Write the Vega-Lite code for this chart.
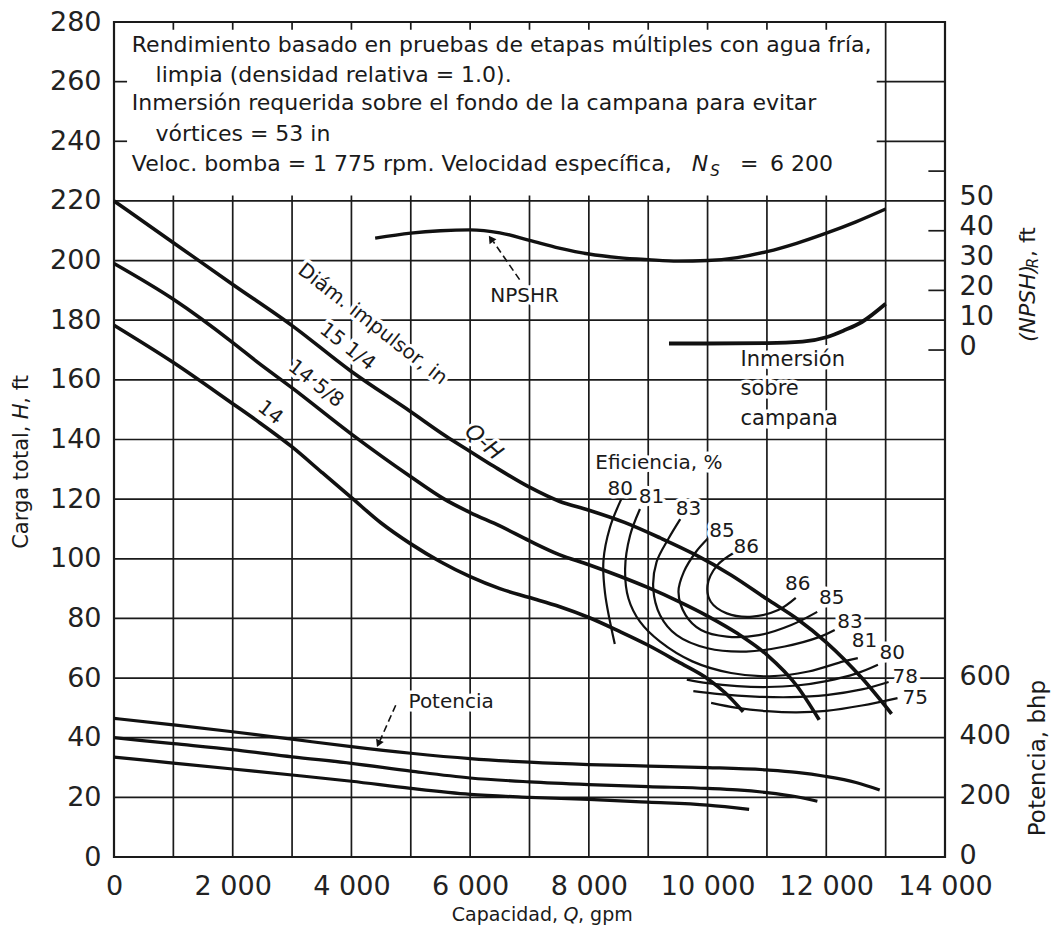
{
"$schema":"https://vega.github.io/schema/vega-lite/v6.json",
"width":831,"height":835,
"autosize":{"type":"none"},
"padding":{"left":114,"top":22,"right":107,"bottom":83},
"background":"white",
"config":{"view":{"stroke":"#1a1a1a","strokeWidth":2.2},"font":"DejaVu Sans","text":{"font":"DejaVu Sans","color":"#1a1a1a"}},
"datasets":{
"hrules":[
{"h":20,"q":0,"q2":14000},{"h":40,"q":0,"q2":14000},{"h":60,"q":0,"q2":14000},{"h":80,"q":0,"q2":14000},{"h":100,"q":0,"q2":14000},{"h":120,"q":0,"q2":14000},{"h":140,"q":0,"q2":14000},{"h":160,"q":0,"q2":14000},{"h":180,"q":0,"q2":14000},{"h":200,"q":0,"q2":14000},{"h":220,"q":0,"q2":14000},
{"h":240,"q":0,"q2":220},{"h":260,"q":0,"q2":220},{"h":240,"q":12850,"q2":14000},{"h":260,"q":12850,"q2":14000},
{"h":170,"q":13720,"q2":14000},{"h":190,"q":13720,"q2":14000},{"h":210,"q":13720,"q2":14000},{"h":230,"q":13720,"q2":14000}
],
"vrules":[
{"q":1000,"h":0,"h2":221.8},{"q":2000,"h":0,"h2":221.8},{"q":3000,"h":0,"h2":221.8},{"q":4000,"h":0,"h2":221.8},{"q":5000,"h":0,"h2":221.8},{"q":6000,"h":0,"h2":221.8},{"q":7000,"h":0,"h2":221.8},{"q":8000,"h":0,"h2":221.8},{"q":9000,"h":0,"h2":221.8},{"q":10000,"h":0,"h2":221.8},{"q":11000,"h":0,"h2":221.8},{"q":12000,"h":0,"h2":221.8},{"q":13000,"h":0,"h2":280},
{"q":1000,"h":277.4,"h2":280},{"q":2000,"h":277.4,"h2":280},{"q":3000,"h":277.4,"h2":280},{"q":4000,"h":277.4,"h2":280},{"q":5000,"h":277.4,"h2":280},{"q":6000,"h":277.4,"h2":280},{"q":7000,"h":277.4,"h2":280},{"q":8000,"h":277.4,"h2":280},{"q":9000,"h":277.4,"h2":280},{"q":10000,"h":277.4,"h2":280},{"q":11000,"h":277.4,"h2":280},{"q":12000,"h":277.4,"h2":280}
],
"qh":[
{"c":"15 1/4","q":0,"h":220},{"c":"15 1/4","q":1000,"h":206},{"c":"15 1/4","q":2000,"h":192},{"c":"15 1/4","q":3000,"h":178.2},{"c":"15 1/4","q":4000,"h":162.8},{"c":"15 1/4","q":5000,"h":149.3},{"c":"15 1/4","q":5600,"h":141},{"c":"15 1/4","q":6000,"h":136},{"c":"15 1/4","q":6400,"h":131},{"c":"15 1/4","q":7000,"h":124},{"c":"15 1/4","q":7500,"h":119.3},{"c":"15 1/4","q":8000,"h":116.3},{"c":"15 1/4","q":8600,"h":112.2},{"c":"15 1/4","q":9200,"h":107},{"c":"15 1/4","q":9800,"h":101.3},{"c":"15 1/4","q":10400,"h":94.5},{"c":"15 1/4","q":11000,"h":86.5},{"c":"15 1/4","q":11500,"h":80},{"c":"15 1/4","q":12000,"h":72},{"c":"15 1/4","q":12600,"h":60},{"c":"15 1/4","q":13100,"h":48},
{"c":"14 5/8","q":0,"h":199},{"c":"14 5/8","q":1000,"h":187},{"c":"14 5/8","q":2000,"h":172.5},{"c":"14 5/8","q":2400,"h":166.2},{"c":"14 5/8","q":3000,"h":157.3},{"c":"14 5/8","q":4000,"h":141.8},{"c":"14 5/8","q":5000,"h":127.5},{"c":"14 5/8","q":5565,"h":120},{"c":"14 5/8","q":6000,"h":115.5},{"c":"14 5/8","q":6500,"h":111},{"c":"14 5/8","q":7000,"h":106},{"c":"14 5/8","q":7500,"h":101.4},{"c":"14 5/8","q":8000,"h":98},{"c":"14 5/8","q":8500,"h":94.3},{"c":"14 5/8","q":9000,"h":90.3},{"c":"14 5/8","q":9500,"h":85.8},{"c":"14 5/8","q":10000,"h":80.8},{"c":"14 5/8","q":10500,"h":75},{"c":"14 5/8","q":11000,"h":67.8},{"c":"14 5/8","q":11500,"h":57.5},{"c":"14 5/8","q":11880,"h":46},
{"c":"14","q":0,"h":178.3},{"c":"14","q":1000,"h":165.8},{"c":"14","q":2000,"h":152},{"c":"14","q":2400,"h":146.4},{"c":"14","q":3000,"h":137.5},{"c":"14","q":3500,"h":129},{"c":"14","q":4000,"h":120.5},{"c":"14","q":4500,"h":112},{"c":"14","q":5000,"h":105},{"c":"14","q":5500,"h":99},{"c":"14","q":6000,"h":94},{"c":"14","q":6500,"h":90},{"c":"14","q":7000,"h":87},{"c":"14","q":7500,"h":84},{"c":"14","q":8000,"h":80.3},{"c":"14","q":8500,"h":75.8},{"c":"14","q":9000,"h":71},{"c":"14","q":9500,"h":65.5},{"c":"14","q":10000,"h":59.8},{"c":"14","q":10300,"h":55},{"c":"14","q":10600,"h":48.7}
],
"power":[
{"c":"P1","q":0,"h":46.5},{"c":"P1","q":1000,"h":44.3},{"c":"P1","q":2000,"h":42},{"c":"P1","q":3000,"h":39.5},{"c":"P1","q":4000,"h":37},{"c":"P1","q":5000,"h":34.8},{"c":"P1","q":6000,"h":33},{"c":"P1","q":7000,"h":31.8},{"c":"P1","q":8000,"h":31},{"c":"P1","q":9000,"h":30.5},{"c":"P1","q":10000,"h":30},{"c":"P1","q":11000,"h":29.2},{"c":"P1","q":11500,"h":28.4},{"c":"P1","q":12000,"h":27},{"c":"P1","q":12500,"h":25},{"c":"P1","q":12900,"h":22.5},
{"c":"P2","q":0,"h":40},{"c":"P2","q":1000,"h":38},{"c":"P2","q":2000,"h":36},{"c":"P2","q":3000,"h":33.6},{"c":"P2","q":4000,"h":31.4},{"c":"P2","q":5000,"h":28.8},{"c":"P2","q":6000,"h":26.5},{"c":"P2","q":7000,"h":25.2},{"c":"P2","q":8000,"h":24.3},{"c":"P2","q":9000,"h":23.6},{"c":"P2","q":10000,"h":23},{"c":"P2","q":10500,"h":22.5},{"c":"P2","q":11000,"h":21.6},{"c":"P2","q":11500,"h":20.2},{"c":"P2","q":11850,"h":18.7},
{"c":"P3","q":0,"h":33.5},{"c":"P3","q":1000,"h":31.5},{"c":"P3","q":2000,"h":29.5},{"c":"P3","q":3000,"h":27.5},{"c":"P3","q":4000,"h":25.4},{"c":"P3","q":5000,"h":23},{"c":"P3","q":6000,"h":21},{"c":"P3","q":7000,"h":20},{"c":"P3","q":8000,"h":19.3},{"c":"P3","q":9000,"h":18.4},{"c":"P3","q":10000,"h":17.4},{"c":"P3","q":10700,"h":16}
],
"npshr":[{"q":4400,"h":207.5},{"q":5000,"h":209.2},{"q":5500,"h":210},{"q":6000,"h":210.3},{"q":6500,"h":209.3},{"q":7000,"h":206.8},{"q":7500,"h":204.2},{"q":8000,"h":202.2},{"q":8500,"h":201},{"q":9000,"h":200.3},{"q":9500,"h":199.8},{"q":10000,"h":200},{"q":10500,"h":201},{"q":11000,"h":203},{"q":11500,"h":205.8},{"q":12000,"h":209.2},{"q":12500,"h":213},{"q":13000,"h":217.3}],
"inm":[{"q":9350,"h":172.2},{"q":10000,"h":172.2},{"q":11000,"h":172.3},{"q":11600,"h":172.8},{"q":12000,"h":174.3},{"q":12300,"h":176.6},{"q":12600,"h":179.4},{"q":13000,"h":185.5}],
"eff":[
{"c":"80a","q":8546,"h":120},{"c":"80a","q":8355,"h":110.5},{"c":"80a","q":8246,"h":99.4},{"c":"80a","q":8273,"h":88.4},{"c":"80a","q":8437,"h":71.4},
{"c":"81","q":8861,"h":116.7},{"c":"81","q":8694,"h":107.8},{"c":"81","q":8611,"h":96.7},{"c":"81","q":8667,"h":86.7},{"c":"81","q":8861,"h":78.9},{"c":"81","q":9200,"h":72.2},{"c":"81","q":9743,"h":65.6},{"c":"81","q":10395,"h":61.7},{"c":"81","q":11043,"h":60.6},{"c":"81","q":11699,"h":62.2},{"c":"81","q":12289,"h":65.6},{"c":"81","q":12531,"h":66.7},
{"c":"83","q":9540,"h":113.3},{"c":"83","q":9340,"h":106.7},{"c":"83","q":9140,"h":98.9},{"c":"83","q":9085,"h":90},{"c":"83","q":9200,"h":81.1},{"c":"83","q":9480,"h":74.4},{"c":"83","q":10000,"h":70},{"c":"83","q":10650,"h":68.9},{"c":"83","q":11300,"h":70.6},{"c":"83","q":11902,"h":73.9},{"c":"83","q":12142,"h":76.1},
{"c":"85","q":10000,"h":106.7},{"c":"85","q":9800,"h":102.2},{"c":"85","q":9600,"h":95.6},{"c":"85","q":9510,"h":88.9},{"c":"85","q":9630,"h":81.1},{"c":"85","q":9890,"h":76.1},{"c":"85","q":10324,"h":73.9},{"c":"85","q":10865,"h":74.4},{"c":"85","q":11410,"h":77.8},{"c":"85","q":11847,"h":82.2},
{"c":"86","q":10459,"h":102.2},{"c":"86","q":10162,"h":97.8},{"c":"86","q":10000,"h":91.1},{"c":"86","q":10054,"h":85.6},{"c":"86","q":10324,"h":81.7},{"c":"86","q":10757,"h":80.6},{"c":"86","q":11190,"h":82.8},{"c":"86","q":11486,"h":86.9},
{"c":"80b","q":9650,"h":59.5},{"c":"80b","q":10000,"h":58.3},{"c":"80b","q":10500,"h":57.3},{"c":"80b","q":11000,"h":57},{"c":"80b","q":11500,"h":57.5},{"c":"80b","q":12000,"h":59},{"c":"80b","q":12500,"h":61.5},{"c":"80b","q":12870,"h":64.5},
{"c":"78","q":9760,"h":55.6},{"c":"78","q":10200,"h":54.6},{"c":"78","q":10800,"h":53.8},{"c":"78","q":11400,"h":53.6},{"c":"78","q":12000,"h":54.3},{"c":"78","q":12600,"h":56.2},{"c":"78","q":13050,"h":58.7},
{"c":"75","q":10060,"h":51.7},{"c":"75","q":10500,"h":50},{"c":"75","q":11000,"h":48.9},{"c":"75","q":11500,"h":48.5},{"c":"75","q":12000,"h":49},{"c":"75","q":12600,"h":50.8},{"c":"75","q":13200,"h":53.3}
],
"leaders":[{"a":"n","q":6833,"h":193.6},{"a":"n","q":6390,"h":206.4},{"a":"p","q":4746,"h":50.9},{"a":"p","q":4480,"h":39}],
"ann":[
{"t":"NPSHR","q":6916,"h":188},{"t":"Potencia","q":5680,"h":52},{"t":"Eficiencia, %","q":9180,"h":132.2},
{"t":"80","q":8530,"h":123.3},{"t":"81","q":9055,"h":120.6},{"t":"83","q":9680,"h":116.7},{"t":"85","q":10243,"h":109.4},{"t":"86","q":10650,"h":103.9},
{"t":"86","q":11519,"h":91.7},{"t":"85","q":12093,"h":86.7},{"t":"83","q":12400,"h":78.7},{"t":"81","q":12645,"h":72.3},{"t":"80","q":13110,"h":68.5},{"t":"78","q":13330,"h":60.5},{"t":"75","q":13500,"h":53.3}
],
"inmtxt":[{"t":"Inmersión","q":10556,"h":166.5},{"t":"sobre","q":10556,"h":156.8},{"t":"campana","q":10556,"h":147}],
"diag":[{"t":"Diám. impulsor, in","q":4356,"h":178.7},{"t":"15 1/4","q":3932,"h":171.1},{"t":"14 5/8","q":3400,"h":158.7},{"t":"14","q":2630,"h":149}],
"notes":[
{"t":"Rendimiento basado en pruebas de etapas múltiples con agua fría,","q":300,"h":272.2},
{"t":"limpia (densidad relativa = 1.0).","q":700,"h":262.1},
{"t":"Inmersión requerida sobre el fondo de la campana para evitar","q":300,"h":253},
{"t":"vórtices = 53 in","q":700,"h":242.5},
{"t":"Veloc. bomba = 1 775 rpm. Velocidad específica,","q":300,"h":232.5},
{"t":"=","q":10546,"h":232.5},
{"t":"6 200","q":11050,"h":232.5}
]
},
"encoding":{
"x":{"field":"q","type":"quantitative","scale":{"domain":[0,14000],"nice":false,"zero":false},"axis":null},
"y":{"field":"h","type":"quantitative","scale":{"domain":[0,280],"nice":false,"zero":false},"axis":null}
},
"resolve":{"axis":{"x":"independent","y":"independent"}},
"layer":[
{"data":{"name":"hrules"},"mark":{"type":"rule","color":"#1a1a1a","strokeWidth":1.7},
 "encoding":{
  "x2":{"field":"q2"},
  "y":{"field":"h","type":"quantitative","scale":{"domain":[0,280],"nice":false,"zero":false},
   "axis":{"orient":"right","values":[0,20,40,60,170,180,190,200,210,220],"labelExpr":"datum.value <= 60 ? format(datum.value*10,'d') : format(datum.value-170,'d')","ticks":false,"domain":false,"grid":false,"title":null,"labelFont":"DejaVu Sans","labelFontSize":27,"labelColor":"#222","labelPadding":14,"labelFlush":false,"labelOverlap":false,
   "labelOffset":{"condition":{"test":"datum.value > 100","value":-4},"value":-2}}}}},
{"data":{"name":"vrules"},"mark":{"type":"rule","color":"#1a1a1a","strokeWidth":1.7},
 "encoding":{"y2":{"field":"h2"},
  "x":{"field":"q","type":"quantitative","scale":{"domain":[0,14000],"nice":false,"zero":false},
   "axis":{"orient":"bottom","values":[0,2000,4000,6000,8000,10000,12000,14000],"labelExpr":"replace(format(datum.value, ','), ',', ' ')","ticks":false,"domain":false,"grid":false,"title":null,"labelFont":"DejaVu Sans","labelFontSize":27,"labelColor":"#222","labelPadding":16,"labelFlush":false,"labelOverlap":false}}}},
{"data":{"name":"qh"},"mark":{"type":"line","color":"#111","strokeWidth":3.6,"interpolate":"monotone"},
 "encoding":{
  "y":{"field":"h","type":"quantitative","scale":{"domain":[0,280],"nice":false,"zero":false},
   "axis":{"orient":"left","values":[0,20,40,60,80,100,120,140,160,180,200,220,240,260,280],"ticks":false,"domain":false,"grid":false,"title":null,"labelFont":"DejaVu Sans","labelFontSize":27,"labelColor":"#222","labelPadding":13,"labelFlush":false,"labelOverlap":false}},
  "detail":{"field":"c"},"order":{"value":null}}},
{"data":{"name":"power"},"mark":{"type":"line","color":"#111","strokeWidth":3.2,"interpolate":"monotone"},
 "encoding":{"detail":{"field":"c"},"order":{"value":null}}},
{"data":{"name":"npshr"},"mark":{"type":"line","color":"#111","strokeWidth":3.4,"interpolate":"monotone"},
 "encoding":{"order":{"value":null}}},
{"data":{"name":"inm"},"mark":{"type":"line","color":"#111","strokeWidth":3.8,"interpolate":"monotone"},
 "encoding":{"order":{"value":null}}},
{"data":{"name":"eff"},"mark":{"type":"line","color":"#111","strokeWidth":2.2,"interpolate":"catmull-rom"},
 "encoding":{"detail":{"field":"c"},"order":{"value":null}}},
{"data":{"name":"leaders"},"mark":{"type":"line","color":"#111","strokeWidth":1.6,"strokeDash":[7,4]},
 "encoding":{"detail":{"field":"a"},"order":{"value":null}}},
{"data":{"values":[{"q":6350,"h":207.3}]},"mark":{"type":"point","shape":"triangle-up","filled":true,"color":"#111","size":70,"angle":325,"opacity":1}},
{"data":{"values":[{"q":4455,"h":38}]},"mark":{"type":"point","shape":"triangle-up","filled":true,"color":"#111","size":70,"angle":204,"opacity":1}},
{"data":{"name":"notes"},"mark":{"type":"text","align":"left","baseline":"middle","fontSize":22},"encoding":{"text":{"field":"t"}}},
{"data":{"values":[{"t":"N","q":9872,"h":232.5}]},"mark":{"type":"text","align":"center","baseline":"middle","fontSize":22,"fontStyle":"italic"},"encoding":{"text":{"field":"t"}}},
{"data":{"values":[{"t":"S","q":10125,"h":230.2}]},"mark":{"type":"text","align":"center","baseline":"middle","fontSize":15,"fontStyle":"italic"},"encoding":{"text":{"field":"t"}}},
{"data":{"name":"ann"},"mark":{"type":"text","align":"center","baseline":"middle","fontSize":20,"fill":"white","stroke":"white","strokeWidth":7,"strokeJoin":"round"},"encoding":{"text":{"field":"t"}}},
{"data":{"name":"ann"},"mark":{"type":"text","align":"center","baseline":"middle","fontSize":20},"encoding":{"text":{"field":"t"}}},
{"data":{"name":"inmtxt"},"mark":{"type":"text","align":"left","baseline":"middle","fontSize":21,"fill":"white","stroke":"white","strokeWidth":7,"strokeJoin":"round"},"encoding":{"text":{"field":"t"}}},
{"data":{"name":"inmtxt"},"mark":{"type":"text","align":"left","baseline":"middle","fontSize":21},"encoding":{"text":{"field":"t"}}},
{"data":{"name":"diag"},"mark":{"type":"text","align":"center","baseline":"middle","fontSize":20,"angle":38,"fill":"white","stroke":"white","strokeWidth":7,"strokeJoin":"round"},"encoding":{"text":{"field":"t"}}},
{"data":{"name":"diag"},"mark":{"type":"text","align":"center","baseline":"middle","fontSize":20,"angle":38},"encoding":{"text":{"field":"t"}}},
{"data":{"values":[{"t":"Q-H","q":6230,"h":139.2}]},"mark":{"type":"text","align":"center","baseline":"middle","fontSize":22,"fontStyle":"italic","angle":42,"fill":"white","stroke":"white","strokeWidth":6,"strokeJoin":"round"},"encoding":{"text":{"field":"t"}}},
{"data":{"values":[{"t":"Q-H","q":6230,"h":139.2}]},"mark":{"type":"text","align":"center","baseline":"middle","fontSize":22,"fontStyle":"italic","angle":42},"encoding":{"text":{"field":"t"}}},
{"data":{"values":[{"t":"Capacidad,","q":7480,"h":-19.5}]},"mark":{"type":"text","align":"right","baseline":"middle","fontSize":19},"encoding":{"text":{"field":"t"}}},
{"data":{"values":[{"t":"Q","q":7699,"h":-19.5}]},"mark":{"type":"text","align":"center","baseline":"middle","fontSize":19,"fontStyle":"italic"},"encoding":{"text":{"field":"t"}}},
{"data":{"values":[{"t":", gpm","q":7817,"h":-19.5}]},"mark":{"type":"text","align":"left","baseline":"middle","fontSize":19},"encoding":{"text":{"field":"t"}}},
{"data":{"values":[{"t":"Carga total,","q":-1550,"h":144.7}]},"mark":{"type":"text","align":"right","baseline":"middle","fontSize":21,"angle":270},"encoding":{"text":{"field":"t"}}},
{"data":{"values":[{"t":"H","q":-1550,"h":149.4}]},"mark":{"type":"text","align":"center","baseline":"middle","fontSize":21,"angle":270,"fontStyle":"italic"},"encoding":{"text":{"field":"t"}}},
{"data":{"values":[{"t":", ft","q":-1550,"h":152}]},"mark":{"type":"text","align":"left","baseline":"middle","fontSize":21,"angle":270},"encoding":{"text":{"field":"t"}}},
{"data":{"values":[{"t":"(NPSH)","q":15397,"h":172.7}]},"mark":{"type":"text","align":"left","baseline":"middle","fontSize":22,"angle":270,"fontStyle":"italic"},"encoding":{"text":{"field":"t"}}},
{"data":{"values":[{"t":"R","q":15490,"h":199.2}]},"mark":{"type":"text","align":"center","baseline":"middle","fontSize":15,"angle":270,"fontStyle":"italic"},"encoding":{"text":{"field":"t"}}},
{"data":{"values":[{"t":", ft","q":15397,"h":201.2}]},"mark":{"type":"text","align":"left","baseline":"middle","fontSize":22,"angle":270},"encoding":{"text":{"field":"t"}}},
{"data":{"values":[{"t":"Potencia, bhp","q":15566,"h":33.2}]},"mark":{"type":"text","align":"center","baseline":"middle","fontSize":23,"angle":270},"encoding":{"text":{"field":"t"}}}
]
}
